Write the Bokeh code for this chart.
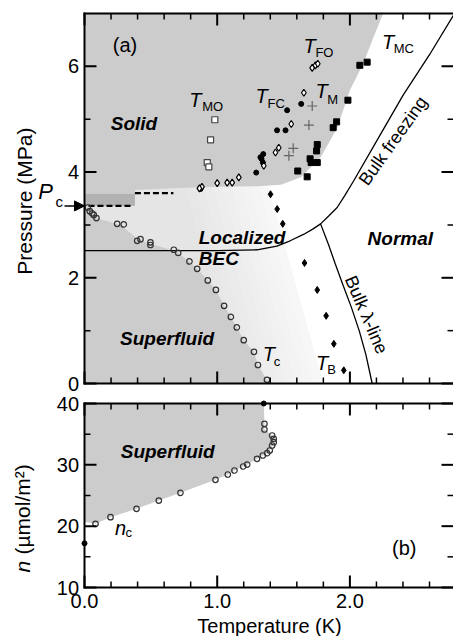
from bokeh.plotting import figure
from bokeh.models import Range1d, Label, Arrow, NormalHead
from bokeh.embed import file_html
from bokeh.resources import INLINE

FONT = "Liberation Sans"

# ---------------- panel (a) data ----------------
# T_c : open circles (superfluid onset)
tc_T = [0.025, 0.040, 0.058, 0.070, 0.090, 0.246, 0.296, 0.397, 0.422, 0.497, 0.497, 0.673,
        0.706, 0.791, 0.849, 0.929, 0.990, 1.052, 1.103, 1.148, 1.200, 1.277, 1.307, 1.375]
tc_P = [3.33, 3.26, 3.22, 3.19, 3.13, 3.02, 3.01, 2.70, 2.73, 2.67, 2.62, 2.53,
        2.47, 2.31, 2.17, 1.95, 1.77, 1.47, 1.26, 1.06, 0.82, 0.60, 0.35, 0.07]
# T_B : filled diamonds
tb_T = [1.402, 1.452, 1.494, 1.658, 1.754, 1.821, 1.879, 1.954]
tb_P = [3.58, 3.30, 3.02, 2.28, 1.77, 1.28, 0.75, 0.25]
# filled circles (T_M / T_FC)
tm_T = [1.633, 1.527, 1.515, 1.451, 1.347, 1.334, 1.344, 1.326, 1.294, 0.874]
tm_P = [5.29, 5.17, 4.79, 4.79, 4.34, 4.25, 4.18, 4.28, 3.99, 3.68]
# open diamonds (T_FO / T_FC)
tf_T = [1.716, 1.740, 1.758, 1.653, 1.558, 1.464, 1.439, 1.351, 1.163, 1.113, 1.075, 1.000, 0.885, 0.866]
tf_P = [5.97, 6.02, 6.05, 5.50, 4.91, 4.46, 4.37, 4.12, 3.90, 3.80, 3.80, 3.79, 3.72, 3.69]
# crosses (T_M)
cross_T = [1.716, 1.691, 1.573, 1.540]
cross_P = [5.25, 4.89, 4.45, 4.31]
# T_MO : open squares
tmo_T = [0.982, 0.950, 0.925, 0.937]
tmo_P = [4.99, 4.61, 4.18, 4.10]
# T_MC : filled squares
tmc_T = [2.130, 2.075, 1.985, 1.900, 1.874, 1.754, 1.749, 1.700, 1.708, 1.754, 1.607, 1.678]
tmc_P = [6.08, 6.02, 5.36, 4.95, 4.84, 4.52, 4.40, 4.25, 4.18, 4.18, 4.02, 3.91]

# bulk freezing (melting) curve
melt_T = [0.0, 1.0, 1.30, 1.45, 1.55, 1.65, 1.72, 1.779, 1.84, 1.904, 1.96, 2.03, 2.20, 2.40, 2.60, 2.80]
melt_P = [2.515, 2.515, 2.53, 2.60, 2.70, 2.82, 2.92, 3.02, 3.17, 3.33, 3.55, 3.84, 4.58, 5.45, 6.22, 7.05]
# bulk lambda line
lam_T = [1.779, 1.84, 1.89, 1.95, 2.01, 2.07, 2.12, 2.168]
lam_P = [3.02, 2.62, 2.26, 1.85, 1.45, 1.00, 0.55, 0.0]

# region boundaries
solid_T = [0.0, 2.25, 2.17, 2.10, 2.00, 1.905, 1.78, 1.63, 1.48, 1.30, 1.00, 0.70, 0.38, 0.38, 0.0]
solid_P = [7.0, 7.0, 6.5, 6.05, 5.55, 4.84, 4.28, 3.90, 3.76, 3.73, 3.72, 3.70, 3.66, 3.59, 3.59]
sf_T = [0.0, 0.0, 0.025, 0.09, 0.27, 0.41, 0.50, 0.69, 0.79, 0.85, 0.93, 0.99, 1.052, 1.103, 1.148, 1.20, 1.277, 1.307, 1.39]
sf_P = [0.0, 3.36, 3.33, 3.13, 3.00, 2.72, 2.64, 2.50, 2.31, 2.17, 1.95, 1.77, 1.47, 1.26, 1.06, 0.82, 0.60, 0.35, 0.0]
block_T = [0.0, 0.38]
block_P = [3.36, 3.59]
# edge of the localized-BEC shading (bottom, top)
bec_edge_T = [1.80, 1.367]
bec_edge_P = [0.0, 3.9]
bec_shift = [0.0, 0.07, 0.14, 0.21, 0.28, 0.35, 0.42, 0.49, 0.56, 0.63]
bec_colors = ["#f7f7f7", "#f5f5f5", "#f3f3f3", "#f1f1f1", "#efefef",
              "#ededed", "#ebebeb", "#e9e9e9", "#e7e7e7", "#e5e5e5"]

dash_lo_T = [0.03, 0.36]
dash_lo_P = [3.36, 3.36]
dash_hi_T = [0.38, 0.67]
dash_hi_P = [3.60, 3.60]
pc_value = 3.36

# ---------------- panel (b) data ----------------
nc_T = [0.083, 0.196, 0.392, 0.560, 0.723, 0.987, 1.080, 1.130, 1.196, 1.226, 1.300, 1.344, 1.377,
        1.396, 1.414, 1.426, 1.426, 1.414, 1.356, 1.356]
nc_n = [20.38, 21.46, 22.83, 24.18, 25.44, 27.56, 28.42, 29.08, 29.73, 30.05, 30.98, 31.52, 31.90,
        32.34, 33.15, 33.69, 34.24, 34.78, 35.76, 36.69]
nf_T = [0.0, 1.351]
nf_n = [17.2, 40.0]
sfb_T = [0.0, 1.351, 1.356, 1.356, 1.414, 1.426, 1.426, 1.414, 1.396, 1.377, 1.344, 1.300, 1.226,
         1.196, 1.130, 1.080, 0.987, 0.723, 0.560, 0.392, 0.196, 0.083, 0.0]
sfb_n = [40.0, 40.0, 36.69, 35.76, 34.78, 34.24, 33.69, 33.15, 32.34, 31.90, 31.52, 30.98, 30.05,
         29.73, 29.08, 28.42, 27.56, 25.44, 24.18, 22.83, 21.46, 20.38, 20.70]

# ---------------- ticks ----------------
x_major = [0, 1, 2]
x_minor = [0.2, 0.4, 0.6, 0.8, 1.2, 1.4, 1.6, 1.8, 2.2, 2.4, 2.6]
x_tick_labels = ["0.0", "1.0", "2.0"]
p_major = [0, 2, 4, 6]
p_minor = [1, 3, 5]
p_tick_labels = ["0", "2", "4", "6"]
n_major = [10, 20, 30, 40]
n_minor = [15, 25, 35]
n_tick_labels = ["10", "20", "30", "40"]

# ---------------- geometry (pixels) ----------------
CANVAS_W, CANVAS_H = 453, 636
PX_K = 132.7                     # px per kelvin
LEFT_W = 84                      # space left of the frames
XMAX = (CANVAS_W - LEFT_W) / PX_K
P_MAX = 7.0
A_TOP, A_BOT = 13, 383           # panel (a) frame top / bottom
PX_P = (A_BOT - A_TOP) / P_MAX
N_MIN, N_MAX = 10.0, 40.0
B_TOP, B_BOT = 403, 587          # panel (b) frame top / bottom
PX_N = (B_BOT - B_TOP) / (N_MAX - N_MIN)
MAJ, MIN_ = 12, 6                # tick lengths


def n_at(y_px):
    return N_MAX - (y_px - B_TOP) / PX_N


p = figure(output_backend="svg", toolbar_location=None, x_axis_location=None, y_axis_location=None,
           title=None, frame_width=CANVAS_W, frame_height=CANVAS_H,
           x_range=Range1d(-LEFT_W / PX_K, XMAX),
           y_range=Range1d(-(CANVAS_H - A_BOT) / PX_P, A_BOT / PX_P),
           min_border_left=0, min_border_right=0, min_border_top=0, min_border_bottom=0)
p.extra_y_ranges = {"n": Range1d(n_at(CANVAS_H), n_at(0))}
p.grid.visible = False
p.background_fill_color = "white"
p.border_fill_color = "white"
p.outline_line_color = None


def lab(x, y, text, size, style="normal", align="center", baseline="middle", angle=0.0, yr="default"):
    p.add_layout(Label(x=x, y=y, text=text, text_font=FONT, text_font_size=f"{size}px",
                       text_font_style=style, text_align=align, text_baseline=baseline,
                       angle=angle, angle_units="deg", text_color="black", y_range_name=yr))


def tlabel(xt, yt, xs, ys, sub, main="T", msize=20, ssize=13, yr="default"):
    lab(xt, yt, main, msize, style="italic", yr=yr)
    lab(xs, ys, sub, ssize, align="left", yr=yr)


def frame_and_ticks(ymaj, ymin, y0, y1, px_y, yr):
    """Frame edges (left, top, bottom) and inward ticks, drawn as thin filled boxes."""
    w, h = 1.0 / PX_K, 1.0 / px_y
    p.quad(left=[-w, -w, -w], right=[w, XMAX, XMAX],
           bottom=[y0 - h, y1 - h, y0 - h], top=[y1 + h, y1 + h, y0 + h],
           fill_color="black", line_color=None, y_range_name=yr)
    for xs, ln, hw in ((x_major, MAJ, 1.0), (x_minor, MIN_, 0.75)):
        n = len(xs)
        lefts = [x - hw * w for x in xs]
        rights = [x + hw * w for x in xs]
        p.quad(left=lefts + lefts, right=rights + rights,
               bottom=[y0] * n + [y1 - ln * h] * n, top=[y0 + ln * h] * n + [y1] * n,
               fill_color="black", line_color=None, y_range_name=yr)
    for ys, ln, hw in ((ymaj, MAJ, 1.0), (ymin, MIN_, 0.75)):
        n = len(ys)
        bots = [y - hw * h for y in ys]
        tops = [y + hw * h for y in ys]
        p.quad(left=[0.0] * n + [XMAX - ln * w] * n, right=[ln * w] * n + [XMAX] * n,
               bottom=bots + bots, top=tops + tops, fill_color="black", line_color=None, y_range_name=yr)


# ================= panel (a) =================
for s, c in zip(bec_shift, bec_colors):
    qx = [0.0, bec_edge_T[0] - s, bec_edge_T[1] - s, 0.0]
    qy = [bec_edge_P[0], bec_edge_P[0], bec_edge_P[1], bec_edge_P[1]]
    p.patch(qx, qy, fill_color=c, line_color=None)

p.patch(solid_T, solid_P, fill_color="#cccccc", line_color=None)
p.patch(sf_T, sf_P, fill_color="#cccccc", line_color=None)
p.quad(left=[block_T[0]], right=[block_T[1]], bottom=[block_P[0]], top=[block_P[1]],
       fill_color="#b2b2b2", line_color=None)

p.line(dash_lo_T, dash_lo_P, line_color="black", line_width=2.2, line_dash="6 3")
p.line(dash_hi_T, dash_hi_P, line_color="black", line_width=2.2, line_dash="6 3")

p.line(melt_T, melt_P, line_color="black", line_width=1.3)
p.line(lam_T, lam_P, line_color="black", line_width=1.3)

p.scatter(tc_T, tc_P, marker="circle", size=5.5, fill_color=None, line_color="#333333", line_width=1.2)
p.scatter(tb_T, tb_P, marker="diamond", size=7, fill_color="black", line_color="black")
p.scatter(tm_T, tm_P, marker="circle", size=5, fill_color="black", line_color="black")
p.scatter(tf_T, tf_P, marker="diamond", size=7, fill_color="white", line_color="black", line_width=1.2)
p.scatter(cross_T, cross_P, marker="cross", size=10, line_color="#666666", line_width=1.2)
p.scatter(tmo_T, tmo_P, marker="square", size=6, fill_color="white", line_color="#444444", line_width=1.2)
p.scatter(tmc_T, tmc_P, marker="square", size=6, fill_color="black", line_color="black")

frame_and_ticks(p_major, p_minor, 0.0, P_MAX, PX_P, "default")

# y-axis texts of panel (a)
for v, t in zip(p_major, p_tick_labels):
    lab(-5.5 / PX_K, v, t, 20, align="right")
lab(-60 / PX_K, 3.45, "Pressure (MPa)", 21, angle=90)
lab(-39 / PX_K, 3.63, "P", 22, style="italic")
lab(-29 / PX_K, 3.44, "c", 15, align="left")
p.add_layout(Arrow(end=NormalHead(size=10, fill_color="black", line_color="black"),
                   x_start=-20 / PX_K, y_start=pc_value, x_end=0.0, y_end=pc_value,
                   line_color="black", line_width=1.5))

lab(0.305, 6.40, "(a)", 20)
lab(0.373, 4.92, "Solid", 19, style="bold italic")
lab(0.861, 2.76, "Localized", 19, style="bold italic", align="left")
lab(0.861, 2.36, "BEC", 19, style="bold italic", align="left")
lab(2.38, 2.74, "Normal", 19, style="bold italic")
lab(0.622, 0.86, "Superfluid", 19, style="bold italic")
lab(2.325, 4.59, "Bulk freezing", 18, angle=54.6)
lab(2.124, 1.30, "Bulk \u03bb-line", 18, angle=-66.8)

tlabel(0.836, 5.36, 0.887, 5.25, "MO")
tlabel(1.696, 6.39, 1.740, 6.27, "FO")
tlabel(2.287, 6.47, 2.330, 6.33, "MC")
tlabel(1.334, 5.43, 1.379, 5.30, "FC")
tlabel(1.786, 5.53, 1.829, 5.38, "M")
tlabel(1.389, 0.566, 1.427, 0.42, "c")
tlabel(1.791, 0.392, 1.829, 0.27, "B")

# ================= panel (b) =================
p.patch(sfb_T, sfb_n, fill_color="#cccccc", line_color=None, y_range_name="n")
p.scatter(nc_T, nc_n, marker="circle", size=5.5, fill_color=None, line_color="#333333", line_width=1.2,
          y_range_name="n")
p.scatter(nf_T, nf_n, marker="circle", size=5, fill_color="black", line_color="black", y_range_name="n")
frame_and_ticks(n_major, n_minor, N_MIN, N_MAX, PX_N, "n")

for v, t in zip(n_major, n_tick_labels):
    lab(-5.5 / PX_K, v, t, 20, align="right", yr="n")
for v, t in zip(x_major, x_tick_labels):
    lab(v, n_at(600), t, 20, yr="n")
lab((269 - LEFT_W) / PX_K, n_at(625), "Temperature (K)", 20, yr="n")
lab(-62 / PX_K, n_at(572), "n", 21, style="italic", align="left", angle=90, yr="n")
lab(-62 / PX_K, n_at(554), "(\u00b5mol/m\u00b2)", 21, align="left", angle=90, yr="n")

lab(0.627, 32.25, "Superfluid", 19, style="bold italic", yr="n")
tlabel(0.271, 19.78, 0.309, 18.97, "c", main="n", yr="n")
lab(2.41, 16.52, "(b)", 20, yr="n")

open("out.html", "w").write(file_html(p, INLINE))
